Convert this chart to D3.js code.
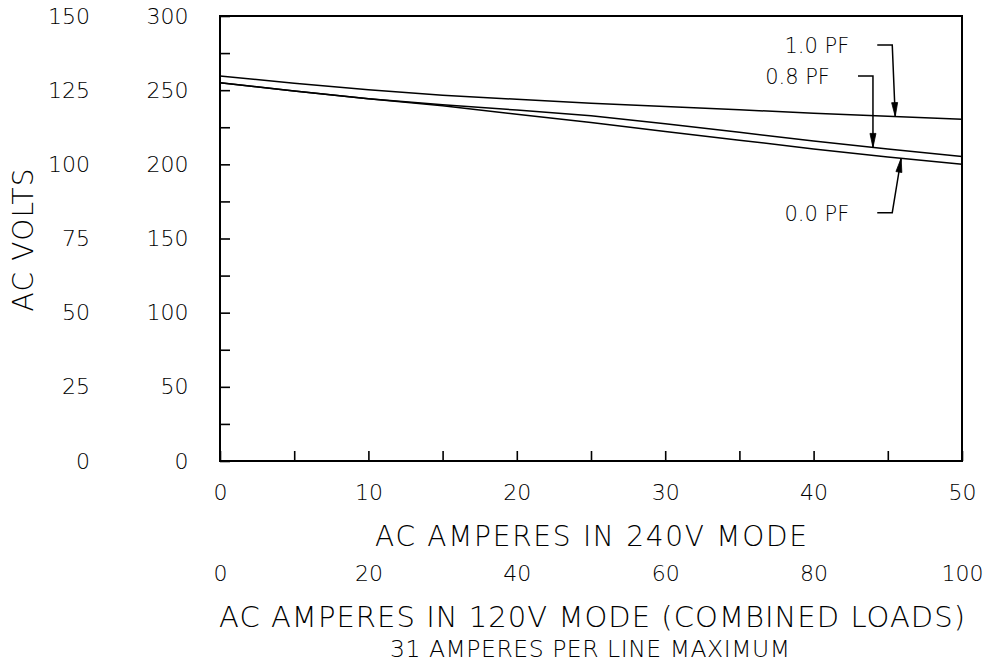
<!DOCTYPE html>
<html>
<head>
<meta charset="utf-8">
<script src="https://cdn.jsdelivr.net/npm/d3@7"></script>
<style>
  html, body { margin: 0; padding: 0; background: #fff; }
  svg { display: block; }
  text { font-family: "DejaVu Sans", "Liberation Sans", sans-serif; font-weight: 200; fill: #000; }
</style>
</head>
<body>
<svg id="chart" width="987" height="664"></svg>
<script>
// ---- data ----
const amps240 = [0, 5, 10, 15, 20, 25, 30, 35, 40, 45, 50];
const pf10 = [259.5, 254.7, 250.2, 246.6, 243.8, 241.2, 239.0, 236.8, 234.5, 232.4, 230.4];
const pf08 = [255.0, 249.5, 244.2, 240.2, 236.6, 232.8, 227.3, 221.6, 215.8, 210.3, 205.2];
const pf00 = [255.0, 249.5, 244.2, 239.5, 233.8, 228.2, 222.2, 216.3, 210.3, 205.0, 200.0];
const seriesNames = ["1.0 PF", "0.8 PF", "0.0 PF"];

const voltTicks240 = [0, 50, 100, 150, 200, 250, 300];
const voltTicks120 = [0, 25, 50, 75, 100, 125, 150];
const ampTicks240 = [0, 10, 20, 30, 40, 50];
const ampTicks120 = [0, 20, 40, 60, 80, 100];

const annLabels = ["1.0 PF", "0.8 PF", "0.0 PF"];
const annTipAmp = [45.5, 44.0, 45.9];
const annCornerAmp = [45.3, 44.0, 45.3];
const annCornerVolt = [280.5, 259.6, 167.4];

const xTitle1 = "AC AMPERES IN 240V MODE";
const xTitle2 = "AC AMPERES IN 120V MODE (COMBINED LOADS)";
const xSubtitle = "31 AMPERES PER LINE MAXIMUM";
const yTitle = "AC VOLTS";

// ---- layout ----
const L = 220, R = 962, T = 16, B = 461;
const svg = d3.select("#chart");

const x = d3.scaleLinear().domain([0, 50]).range([L, R]);
const x120 = d3.scaleLinear().domain([0, 100]).range([L, R]);
const y = d3.scaleLinear().domain([0, 300]).range([B, T]);
const y120 = d3.scaleLinear().domain([0, 150]).range([B, T]);

function styleAxis(g, size) {
  g.attr("font-family", null).attr("font-size", null);
  g.selectAll("text").style("font-size", size + "px").attr("fill", "#000");
  g.selectAll(".tick line").attr("stroke", "#000").attr("stroke-width", 1.6);
  g.select(".domain").remove();
}

// y axis (volts, 240V) with inward ticks every 25
const yAxis = d3.axisLeft(y)
  .tickValues(d3.range(0, 301, 25))
  .tickSizeInner(-10).tickSizeOuter(0)
  .tickPadding(31.5)
  .tickFormat(d => voltTicks240.includes(d) ? d : "");
svg.append("g").attr("transform", `translate(${L},0)`).call(yAxis).call(g => styleAxis(g, 22));

// left scale column (120V)
const yAxis120 = d3.axisLeft(y120)
  .tickValues(voltTicks120)
  .tickSize(0).tickPadding(130)
  .tickFormat(d => d);
svg.append("g").attr("transform", `translate(${L},0)`).call(yAxis120).call(g => styleAxis(g, 22))
  .call(g => g.selectAll(".tick line").remove());

// x axis (240V) with inward ticks every 5
const xAxis = d3.axisBottom(x)
  .tickValues(d3.range(0, 51, 5))
  .tickSizeInner(-10).tickSizeOuter(0)
  .tickPadding(23.5)
  .tickFormat(d => ampTicks240.includes(d) ? d : "");
svg.append("g").attr("transform", `translate(0,${B})`).call(xAxis).call(g => styleAxis(g, 22));

// second x scale (120V)
const xAxis120 = d3.axisBottom(x120)
  .tickValues(ampTicks120)
  .tickSize(0).tickPadding(104)
  .tickFormat(d => d);
svg.append("g").attr("transform", `translate(0,${B})`).call(xAxis120).call(g => styleAxis(g, 22))
  .call(g => g.selectAll(".tick line").remove());

// frame
svg.append("rect")
  .attr("x", L).attr("y", T).attr("width", R - L).attr("height", B - T)
  .attr("fill", "none").attr("stroke", "#000").attr("stroke-width", 2);

// series lines
const seriesVals = [pf10, pf08, pf00];
const line = d3.line().x(d => x(d[0])).y(d => y(d[1]));
const seriesData = seriesVals.map(vals => amps240.map((a, i) => [a, vals[i]]));
svg.append("g").selectAll("path").data(seriesData).join("path")
  .attr("d", line)
  .attr("fill", "none").attr("stroke", "#000").attr("stroke-width", 1.5);

// annotations
function valueAt(vals, a) {
  const interp = d3.scaleLinear().domain(amps240).range(vals);
  return interp(a);
}
const annG = svg.append("g");
annLabels.forEach((lab, i) => {
  const vals = seriesVals[seriesNames.indexOf(lab)];
  const tx = x(annTipAmp[i]), ty = y(valueAt(vals, annTipAmp[i]));
  const cx = x(annCornerAmp[i]), cy = y(annCornerVolt[i]);
  const hx = cx - 15;
  // leader
  annG.append("path")
    .attr("d", `M${hx},${cy}L${cx},${cy}L${tx},${ty}`)
    .attr("fill", "none").attr("stroke", "#000").attr("stroke-width", 1.5);
  // arrowhead
  const dx = tx - cx, dy = ty - cy, len = Math.hypot(dx, dy);
  const ux = dx / len, uy = dy / len;
  const hl = 14, hw = 3;
  const bx = tx - ux * hl, by = ty - uy * hl;
  annG.append("path")
    .attr("d", `M${tx},${ty}L${bx - uy * hw},${by + ux * hw}L${bx + uy * hw},${by - ux * hw}Z`)
    .attr("fill", "#000").attr("stroke", "#000").attr("stroke-width", 0.8);
  // label
  annG.append("text")
    .attr("x", hx - 28).attr("y", cy + 8)
    .attr("text-anchor", "end")
    .style("font-size", "21px")
    .text(lab);
});

// titles
svg.append("text").attr("x", (L + R) / 2).attr("y", 546)
  .attr("text-anchor", "middle").style("font-size", "28px")
  .attr("textLength", 432).attr("lengthAdjust", "spacing").text(xTitle1);
svg.append("text").attr("x", (L + R) / 2 + 1).attr("y", 626.5)
  .attr("text-anchor", "middle").style("font-size", "29px")
  .attr("textLength", 746).attr("lengthAdjust", "spacing").text(xTitle2);
svg.append("text").attr("x", 590).attr("y", 657)
  .attr("text-anchor", "middle").style("font-size", "23.5px")
  .attr("textLength", 400).attr("lengthAdjust", "spacing").text(xSubtitle);
svg.append("text").attr("transform", "translate(33,240) rotate(-90)")
  .attr("text-anchor", "middle").style("font-size", "28px")
  .attr("textLength", 143).attr("lengthAdjust", "spacing").text(yTitle);
</script>
</body>
</html>
